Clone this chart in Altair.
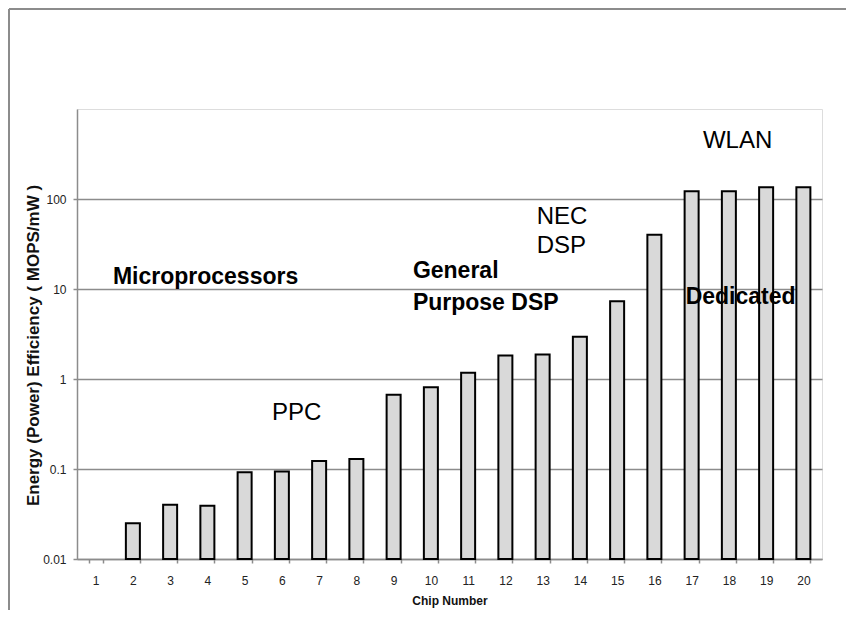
import altair as alt
import pandas as pd

# ---- data ----
chips = [str(i) for i in range(1, 21)]
efficiency = [None, 0.025, 0.040, 0.039, 0.092, 0.094, 0.123, 0.129, 0.67, 0.81,
              1.17, 1.82, 1.87, 2.95, 7.3, 40, 122, 122, 135, 135]
y_ticks = [0.01, 0.1, 1, 10, 100]
y_domain = [0.01, 1000]

ann_text = ["Microprocessors", "General", "Purpose DSP", "PPC", "NEC", "DSP", "WLAN", "Dedicated"]
ann_chip = ["2", "10", "10", "6", "13", "13", "18", "17"]
ann_value = [11.5, 13.1, 5.9, 0.346, 53.4, 25.4, 373, 6.9]

FONT = "Liberation Sans"
GRAY = "#8c8c8c"

df = pd.DataFrame({"chip": chips, "eff": efficiency})
ann = pd.DataFrame({"chip": ann_chip, "eff": ann_value, "label": ann_text})
one = pd.DataFrame({"k": [0]})

x_enc = alt.X(
    "chip:O",
    scale=alt.Scale(domain=chips, paddingInner=0.624, paddingOuter=0.312),
    axis=alt.Axis(
        title="Chip Number", labelAngle=0, tickBand="extent", tickSize=4,
        tickColor=GRAY, tickWidth=1.5, domainColor=GRAY, domainWidth=1.5,
        labelFont=FONT, labelFontSize=12, labelColor="#222222", labelPadding=12,
        titleFont=FONT, titleFontSize=12, titleFontWeight="bold", titleColor="#111111",
        titleY=45, titleBaseline="alphabetic", grid=False,
    ),
)
y_enc = alt.Y(
    "eff:Q",
    scale=alt.Scale(type="log", domain=y_domain),
    axis=alt.Axis(
        title="Energy (Power) Efficiency ( MOPS/mW )", values=y_ticks, format="~g",
        tickSize=4, tickColor=GRAY, tickWidth=1.5, domainColor=GRAY, domainWidth=1.5,
        grid=True, gridColor=GRAY, gridWidth=1.5,
        labelFont=FONT, labelFontSize=12, labelColor="#222222", labelPadding=7,
        titleFont=FONT, titleFontSize=17, titleFontWeight="bold", titleColor="#111111",
        titleX=-44, titleY=236, titleBaseline="middle",
    ),
)

bars = alt.Chart(df).mark_bar(
    fill="#d9d9d9", stroke="black", strokeWidth=2
).encode(x=x_enc, y=y_enc, y2=alt.datum(y_domain[0]))

# per-annotation style (offset in px, bold or not)
styles = [(-20, True), (-18, True), (-18, True), (-10, False),
          (-6, False), (-6, False), (-26, False), (-6, True)]
text_layers = []
for i, (dx, bold) in enumerate(styles):
    t = alt.Chart(ann.iloc[[i]]).mark_text(
        align="left", baseline="alphabetic", dx=dx, font=FONT,
        fontSize=23 if bold else 24, fontWeight="bold" if bold else "normal",
        color="black",
    ).encode(x=x_enc, y=y_enc, text="label:N")
    text_layers.append(t)

frame_top = alt.Chart(one).mark_rule(color=GRAY, strokeWidth=2).encode(
    x=alt.value(-68), x2=alt.value(769), y=alt.value(-100)
)
frame_left = alt.Chart(one).mark_rule(color=GRAY, strokeWidth=2).encode(
    x=alt.value(-68), y=alt.value(-100), y2=alt.value(501)
)

chart = alt.layer(frame_top, frame_left, bars, *text_layers).properties(
    width=745, height=450,
    autosize=alt.AutoSizeParams(type="none"),
    padding={"left": 69, "top": 101, "right": 24, "bottom": 51},
).configure_view(stroke=None).configure(background="white")

chart.save("out.html", embed_options={"renderer": "svg", "actions": False})
